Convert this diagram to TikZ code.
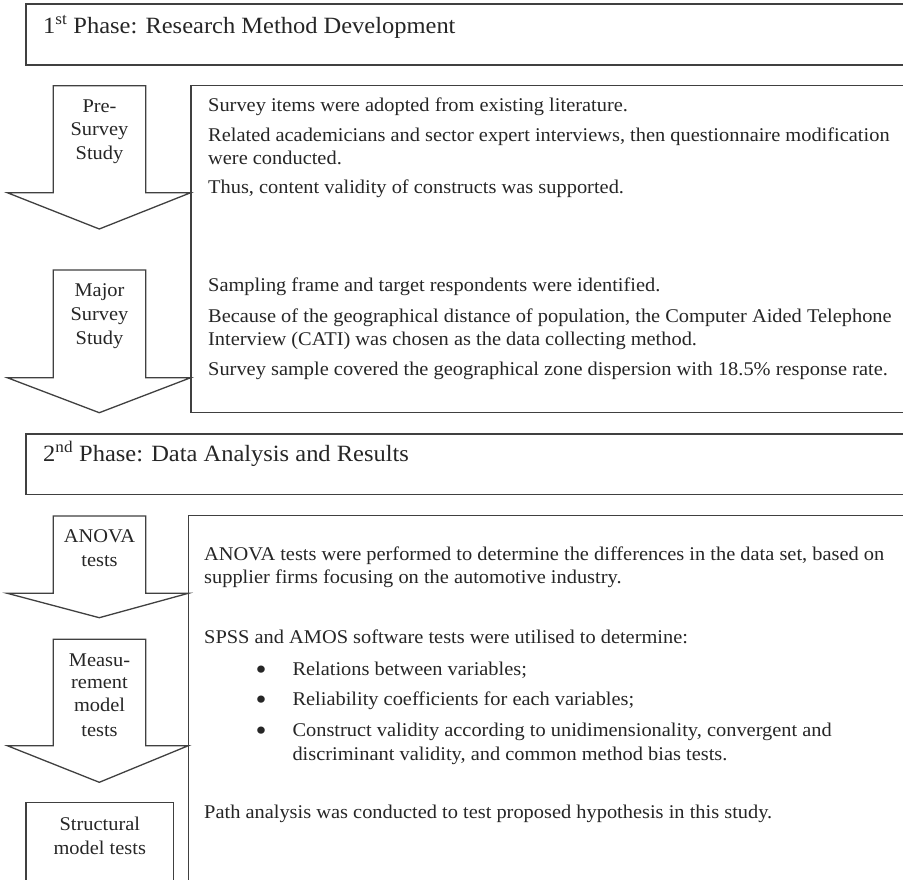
\documentclass[tikz,border=0pt]{standalone}
\usepackage{fontspec}
\setmainfont{Liberation Serif}[FakeStretch=1.05]
\begin{document}
\begin{tikzpicture}[x=1bp,y=-1bp,
  frame/.style={draw=black!75,line width=1.3bp},
  body/.style={inner sep=0pt,anchor=base west,font=\fontsize{19.5}{22}\selectfont,text=black!85},
  dot/.style={inner sep=0pt,anchor=base,font=\fontsize{30}{30}\selectfont,text=black!85},
  lbl/.style={inner sep=0pt,anchor=base,font=\fontsize{19.5}{22}\selectfont,text=black!85},
  head/.style={inner sep=0pt,anchor=base west,font=\fontsize{23.4}{28}\selectfont,text=black!85}]
\useasboundingbox (0,0) rectangle (903,880);
\clip (0,0) rectangle (903,880);
\fill[white] (0,0) rectangle (903,880);
% frames
\draw[frame] (26,4) rectangle (930,65);
\draw[frame] (191,85.7) rectangle (930,412.7);
\draw[frame] (26,434) rectangle (930,494.3);
\draw[frame] (188.3,515.3) rectangle (930,900);
\draw[frame] (26,802.7) rectangle (173.7,900);
% arrows
\draw[frame,line join=miter] (53.3,85.7) -- (145.7,85.7) -- (145.7,192.7) -- (190.7,192.7) -- (99.3,229) -- (7.3,192.7) -- (53.3,192.7) -- cycle;
\draw[frame,line join=miter] (53.3,270) -- (145.7,270) -- (145.7,377.7) -- (190.7,377.7) -- (99.3,412.7) -- (7.3,377.7) -- (53.3,377.7) -- cycle;
\draw[frame,line join=miter] (53.3,516) -- (145.7,516) -- (145.7,593.3) -- (188.3,593.3) -- (99.3,617.7) -- (7.3,593.3) -- (53.3,593.3) -- cycle;
\draw[frame,line join=miter] (53.3,639.3) -- (145.7,639.3) -- (145.7,745.7) -- (188.3,745.7) -- (99.3,782.3) -- (7.3,745.7) -- (53.3,745.7) -- cycle;
% headers
\node[head] (h1) at (43,33) {1\textsuperscript{st} Phase: Research Method Development};
\node[head] (h2) at (43,461.7) {2\textsuperscript{nd} Phase: Data Analysis and Results};
% arrow labels
\node[lbl] (a1) at (99.5,112) {Pre-};
\node[lbl] (a2) at (99.5,135.5) {Survey};
\node[lbl] (a3) at (99.5,159) {Study};
\node[lbl] (b1) at (99.5,296) {Major};
\node[lbl] (b2) at (99.5,320.5) {Survey};
\node[lbl] (b3) at (99.5,344) {Study};
\node[lbl] (c1) at (99.5,542.7) {ANOVA};
\node[lbl] (c2) at (99.5,566.7) {tests};
\node[lbl] (d1) at (99.5,666) {Measu-};
\node[lbl] (d2) at (99.5,688.5) {rement};
\node[lbl] (d3) at (99.5,711.7) {model};
\node[lbl] (d4) at (99.5,736) {tests};
\node[lbl] (e1) at (99.8,830) {Structural};
\node[lbl] (e2) at (99.8,854) {model tests};
% box 1 text
\node[body] (t1) at (208,111.7) {Survey items were adopted from existing literature.};
\node[body] (t2) at (208,141) {Related academicians and sector expert interviews, then questionnaire modification};
\node[body] (t3) at (208,164) {were conducted.};
\node[body] (t4) at (208,193) {Thus, content validity of constructs was supported.};
\node[body] (t5) at (208,291.7) {Sampling frame and target respondents were identified.};
\node[body] (t6) at (208,322.7) {Because of the geographical distance of population, the Computer Aided Telephone};
\node[body] (t7) at (208,345) {Interview (CATI) was chosen as the data collecting method.};
\node[body] (t8) at (208,375) {Survey sample covered the geographical zone dispersion with 18.5\% response rate.};
% box 2 text
\node[body] (u1) at (204,560.7) {ANOVA tests were performed to determine the differences in the data set, based on};
\node[body] (u2) at (204,583.3) {supplier firms focusing on the automotive industry.};
\node[body] (u3) at (204,643.3) {SPSS and AMOS software tests were utilised to determine:};
\node[dot] (k1) at (261,679) {•};
\node[body] (u4) at (292.3,675) {Relations between variables;};
\node[dot] (k2) at (261,709) {•};
\node[body] (u5) at (292.3,705) {Reliability coefficients for each variables;};
\node[dot] (k3) at (261,740.7) {•};
\node[body] (u6) at (292.3,736.7) {Construct validity according to unidimensionality, convergent and};
\node[body] (u7) at (292.3,760) {discriminant validity, and common method bias tests.};
\node[body] (u8) at (204,818.3) {Path analysis was conducted to test proposed hypothesis in this study.};
\end{tikzpicture}
\end{document}
